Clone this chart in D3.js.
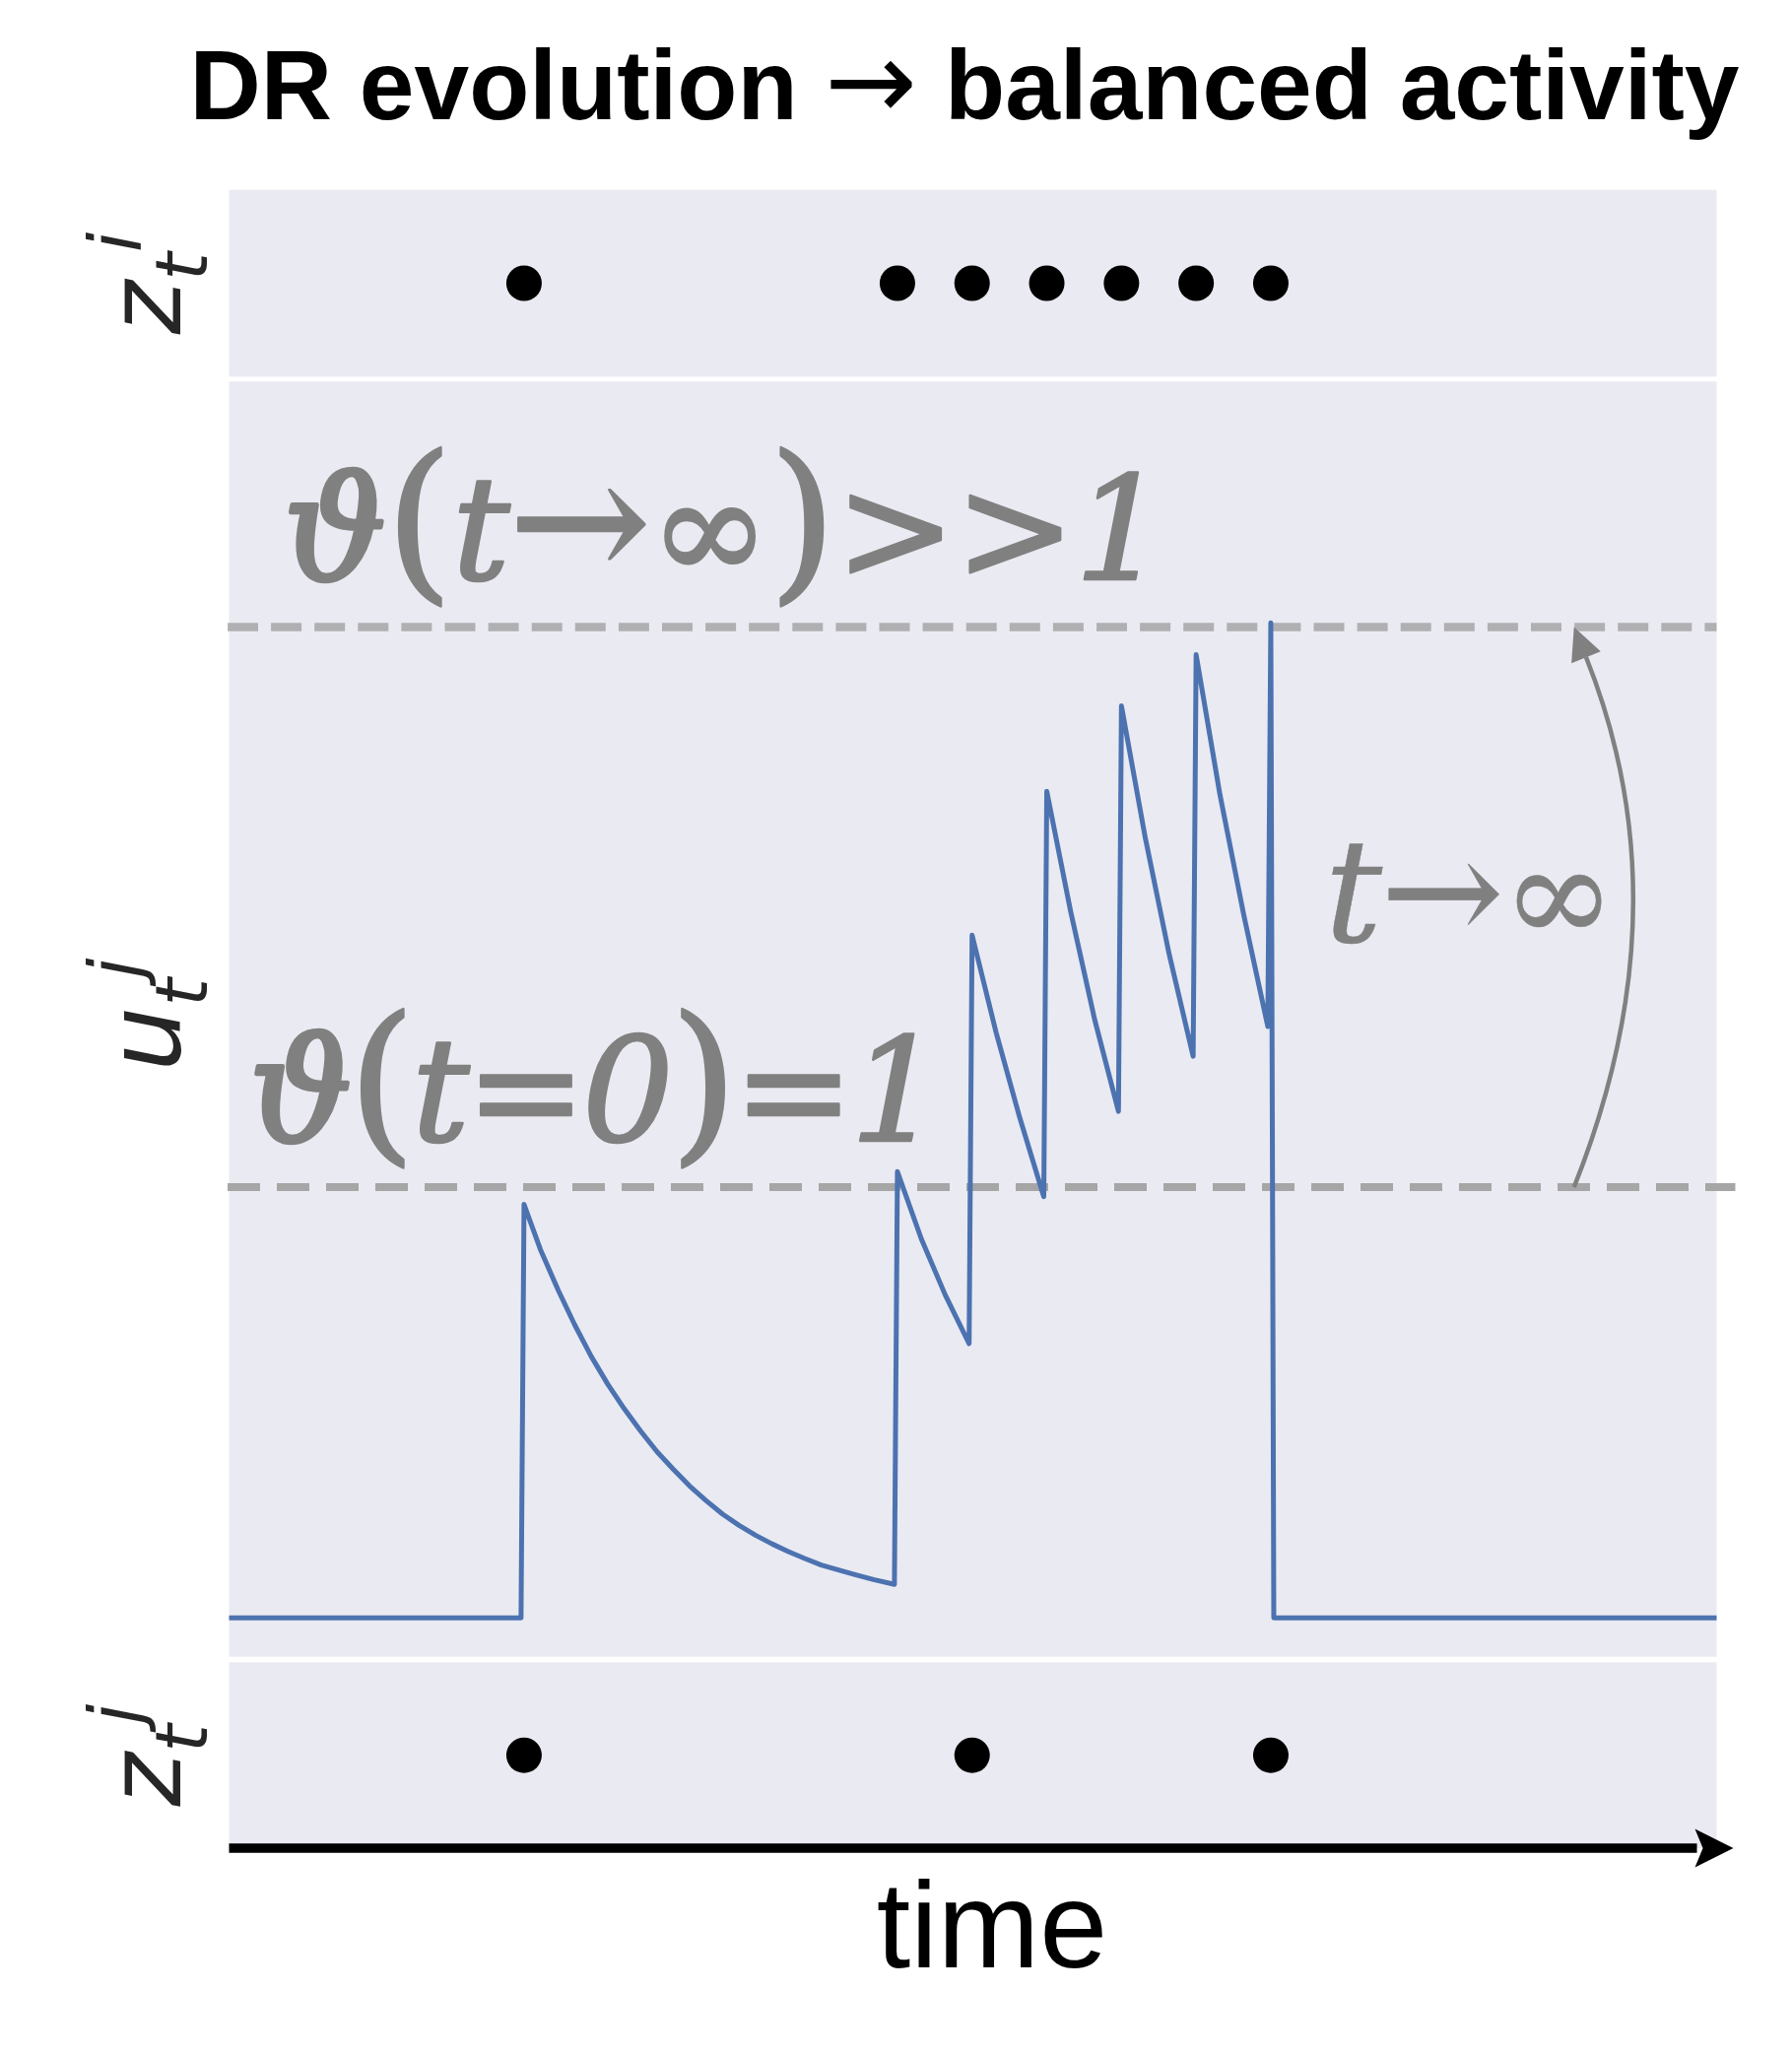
<!DOCTYPE html>
<html>
<head>
<meta charset="utf-8">
<title>DR evolution</title>
<script src="https://d3js.org/d3.v7.min.js"></script>
<style>
  body { margin: 0; background: #fff; overflow: hidden; }
</style>
</head>
<body>
<script>
// spike times of neuron i (top row) and neuron j (bottom row)
var spikesI = [20, 45, 50, 55, 60, 65, 70];
var spikesJ = [20, 50, 70];

// membrane potential u_t^j of neuron j
var traceT = [0, 19.8, 20, 21.1, 22.3, 23.4, 24.5, 25.6, 26.7, 27.8, 28.9, 30.0, 31.1, 32.2,
              33.3, 34.4, 35.5, 36.6, 37.7, 38.8, 39.9, 41.0, 42.1, 43.4, 44.8,
              45, 46.6, 48.2, 49.8,
              50, 51.6, 53.2, 54.8,
              55, 56.6, 58.2, 59.8,
              60, 61.6, 63.2, 64.8,
              65, 66.6, 68.2, 69.8,
              70, 70.2, 100];
var traceU = [0, 0, 0.96, 0.855, 0.76, 0.68, 0.607, 0.543, 0.486, 0.434, 0.386, 0.345, 0.306, 0.272,
              0.241, 0.215, 0.192, 0.172, 0.154, 0.138, 0.123, 0.112, 0.101, 0.089, 0.078,
              1.036, 0.88, 0.75, 0.637,
              1.585, 1.36, 1.16, 0.978,
              1.919, 1.64, 1.39, 1.176,
              2.117, 1.81, 1.54, 1.304,
              2.236, 1.91, 1.63, 1.373,
              2.31, 0, 0];

// threshold at start and after adaptation
var thetaStart = 1.0;
var thetaEnd = 2.30;

var timeDomain = [0.25, 99.85];
var uDomain = [-0.09, 2.87];

var W = 1819, H = 2088;
var left = 232.5, right = 1742.5;
var bg = "#EAEAF2", blue = "#4C72B0", gray = "#808080";

var svg = d3.select("body").append("svg")
    .attr("width", W)
    .attr("height", H);

var x = d3.scaleLinear().domain(timeDomain).range([left, right]);

// three stacked panels
var panels = {
  top: [192.7, 382.3],
  mid: [387.3, 1681.7],
  bot: [1687.3, 1876]
};
Object.keys(panels).forEach(function(k) {
  var p = panels[k];
  svg.append("rect")
    .attr("x", left).attr("y", p[0])
    .attr("width", right - left).attr("height", p[1] - p[0])
    .attr("fill", bg);
});

var y = d3.scaleLinear().domain(uDomain).range([panels.mid[1], panels.mid[0]]);
var yTop = d3.scaleLinear().domain([-1, 1]).range([panels.top[1], panels.top[0]]);
var yBot = d3.scaleLinear().domain([-1, 1]).range([panels.bot[1], panels.bot[0]]);

// title
var title = svg.append("text")
  .attr("x", 979).attr("y", 121)
  .attr("text-anchor", "middle")
  .attr("textLength", 1573)
  .attr("lengthAdjust", "spacingAndGlyphs")
  .style("font-family", "'Liberation Sans', Arial, sans-serif")
  .style("font-weight", "bold")
  .style("font-size", "100px")
  .attr("fill", "#000");
title.append("tspan").text("DR evolution ");
title.append("tspan")
  .style("font-family", "'DejaVu Sans', sans-serif")
  .style("font-weight", "normal")
  .style("font-size", "112px")
  .text("\u2192");
title.append("tspan").text(" balanced activity");

// spike dots
svg.selectAll(".dotI")
  .data(spikesI)
  .enter().append("circle")
  .attr("class", "dotI")
  .attr("cx", function(d) { return x(d); })
  .attr("cy", yTop(0))
  .attr("r", 18)
  .attr("fill", "#000");

svg.selectAll(".dotJ")
  .data(spikesJ)
  .enter().append("circle")
  .attr("class", "dotJ")
  .attr("cx", function(d) { return x(d); })
  .attr("cy", yBot(0))
  .attr("r", 18)
  .attr("fill", "#000");

// clip for the middle panel
svg.append("clipPath").attr("id", "midClip")
  .append("rect")
  .attr("x", left).attr("y", panels.mid[0])
  .attr("width", right - left).attr("height", panels.mid[1] - panels.mid[0]);

// threshold lines
svg.append("line")
  .attr("x1", x(timeDomain[0]) - 1.5).attr("x2", x(timeDomain[1]))
  .attr("y1", y(thetaEnd)).attr("y2", y(thetaEnd))
  .attr("stroke", gray).attr("stroke-opacity", 0.55)
  .attr("stroke-width", 8.5)
  .attr("stroke-dasharray", "31,13.1");

svg.append("line")
  .attr("x1", x(timeDomain[0]) - 1.5).attr("x2", x(101.1))
  .attr("y1", y(thetaStart)).attr("y2", y(thetaStart))
  .attr("stroke", "#A6A6A6")
  .attr("stroke-width", 8)
  .attr("stroke-dasharray", "33,17");

// membrane trace
var trace = traceT.map(function(t, i) { return [t, traceU[i]]; });
svg.append("path")
  .datum(trace)
  .attr("clip-path", "url(#midClip)")
  .attr("fill", "none")
  .attr("stroke", blue)
  .attr("stroke-width", 5)
  .attr("stroke-linejoin", "round")
  .attr("d", d3.line()
    .x(function(d) { return x(d[0]); })
    .y(function(d) { return y(d[1]); }));

// math annotations, glyphs flow naturally from the anchor
function mathLabel(t0, u0, parts, sw, spacing) {
  var txt = svg.append("text")
    .attr("x", x(t0)).attr("y", y(u0))
    .style("font-family", "'DejaVu Serif', serif")
    .style("font-size", "146px")
    .style("letter-spacing", spacing + "px")
    .attr("fill", gray)
    .attr("stroke", gray)
    .attr("stroke-width", sw)
    .attr("stroke-linejoin", "round");
  parts.forEach(function(p) {
    txt.append("tspan")
      .style("font-style", p.it ? "italic" : "normal")
      .style("font-size", p.fs ? p.fs + "px" : null)
      .attr("stroke-width", p.sw != null ? p.sw : null)
      .text(p.s);
  });
}

mathLabel(3.9, 2.41, [
  {s: "\u03D1", it: true, sw: 4.5}, {s: "(", fs: 176}, {s: "t", it: true},
  {s: "\u2192", fs: 172}, {s: "\u221E"}, {s: ")", fs: 176},
  {s: ">"}, {s: ">"}, {s: "1", it: true}
], 2.5, -1);

mathLabel(1.6, 1.107, [
  {s: "\u03D1", it: true, sw: 4.5}, {s: "(", fs: 176}, {s: "t", it: true},
  {s: "="}, {s: "0", it: true}, {s: ")", fs: 176},
  {s: "="}, {s: "1", it: true}
], 2.5, -4);

mathLabel(73.6, 1.569, [
  {s: "t", it: true}, {s: "\u2192", fs: 150}, {s: "\u221E", fs: 138}
], 0.5, -2);

// curved arrow: theta grows as t -> infinity
(function() {
  var p0 = [x(90.3), y(thetaStart)];
  var p2 = [x(90.3), y(thetaEnd)];
  var rad = 0.2;
  var mx = (p0[0] + p2[0]) / 2, my = (p0[1] + p2[1]) / 2;
  var dx = p2[0] - p0[0], dy = p2[1] - p0[1];
  var c = [mx - rad * dy, my + rad * dx];
  var vx = p2[0] - c[0], vy = p2[1] - c[1];
  var len = Math.sqrt(vx * vx + vy * vy);
  vx /= len; vy /= len;
  var hl = 33, hw = 16;
  var base = [p2[0] - vx * hl, p2[1] - vy * hl];
  var path = d3.path();
  path.moveTo(p0[0], p0[1]);
  path.quadraticCurveTo(c[0], c[1], base[0], base[1]);
  svg.append("path")
    .attr("d", path.toString())
    .attr("fill", "none")
    .attr("stroke", gray)
    .attr("stroke-width", 4.5);
  svg.append("polygon")
    .attr("points", [
      p2,
      [base[0] - vy * hw, base[1] + vx * hw],
      [base[0] + vy * hw, base[1] - vx * hw]
    ].map(function(p) { return p.join(","); }).join(" "))
    .attr("fill", gray);
})();

// time axis arrow
var axY = panels.bot[1];
svg.append("line")
  .attr("x1", left).attr("x2", right - 20)
  .attr("y1", axY).attr("y2", axY)
  .attr("stroke", "#000").attr("stroke-width", 9.3);
svg.append("polygon")
  .attr("points", [
    [right + 17, axY],
    [right - 22, axY - 19.5],
    [right - 14, axY],
    [right - 22, axY + 19.5]
  ].map(function(p) { return p.join(","); }).join(" "))
  .attr("fill", "#000");

svg.append("text")
  .attr("x", 1007).attr("y", 1997)
  .attr("text-anchor", "middle")
  .style("font-family", "'Liberation Sans', Arial, sans-serif")
  .style("font-size", "124px")
  .attr("fill", "#000")
  .text("time");

// rotated y labels
function yLabel(cy, base, sub, sup) {
  var t = svg.append("text")
    .attr("transform", "translate(183," + cy + ") rotate(-90)")
    .attr("text-anchor", "middle")
    .style("font-family", "'DejaVu Sans', sans-serif")
    .style("font-style", "italic")
    .style("font-size", "104px")
    .attr("fill", "#262626");
  t.append("tspan").text(base);
  t.append("tspan").attr("dy", 27).style("font-size", "73px").text(sub);
  t.append("tspan").attr("dy", -67).style("font-size", "73px").text(sup);
}
yLabel(yTop(0), "z", "t", "i");
yLabel(1030, "u", "t", "j");
yLabel(yBot(0), "z", "t", "j");
</script>
</body>
</html>
